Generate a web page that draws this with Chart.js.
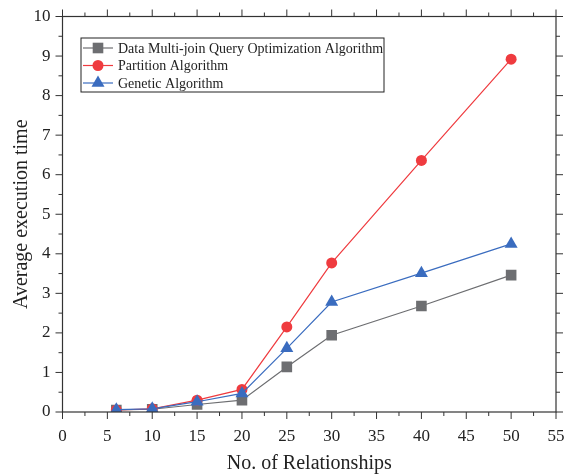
<!DOCTYPE html>
<html>
<head>
<meta charset="utf-8">
<script src="https://cdn.jsdelivr.net/npm/chart.js@4"></script>
<style>
  html, body { margin: 0; padding: 0; background: #fff; }
  #wrap { width: 565px; height: 476px; }
</style>
</head>
<body>
<div id="wrap"><canvas id="chart" width="565" height="476"></canvas></div>
<script>
// Chart data
const relations = [6, 10, 15, 20, 25, 30, 40, 50];
const multiJoin = [0.05, 0.07, 0.19, 0.30, 1.14, 1.94, 2.68, 3.46];
const partition = [0.05, 0.08, 0.30, 0.57, 2.15, 3.77, 6.36, 8.92];
const genetic = [0.06, 0.08, 0.26, 0.47, 1.61, 2.78, 3.51, 4.25];
const seriesNames = [
  'Data Multi-join Query Optimization Algorithm',
  'Partition Algorithm',
  'Genetic Algorithm',
];

const serif = "'Liberation Serif', 'DejaVu Serif', serif";

const toPoints = (ys) => relations.map((x, i) => ({ x: x, y: ys[i] }));

// Frame, outward ticks (major + minor) on all four sides, and boxed legend
const framePlugin = {
  id: 'frame',
  afterDraw(chart) {
    const ctx = chart.ctx;
    const { left, right, top, bottom } = chart.chartArea;
    const xs = chart.scales.x;
    const ys = chart.scales.y;
    ctx.save();
    ctx.strokeStyle = '#333';
    ctx.lineWidth = 1.2;
    ctx.strokeRect(left, top, right - left, bottom - top);

    ctx.lineWidth = 1;
    ctx.beginPath();
    for (let v = 0; v <= 55; v += 2.5) {
      const px = xs.getPixelForValue(v);
      const len = v % 5 === 0 ? 7 : 4;
      ctx.moveTo(px, bottom); ctx.lineTo(px, bottom + len);
      ctx.moveTo(px, top); ctx.lineTo(px, top - len);
    }
    for (let v = 0; v <= 10; v += 0.5) {
      const py = ys.getPixelForValue(v);
      const len = v % 1 === 0 ? 7 : 4;
      ctx.moveTo(left, py); ctx.lineTo(left - len, py);
      ctx.moveTo(right, py); ctx.lineTo(right + len, py);
    }
    ctx.stroke();

    // legend
    const bx = 81, by = 38, bw = 303, bh = 54;
    ctx.fillStyle = '#fff';
    ctx.fillRect(bx, by, bw, bh);
    ctx.strokeStyle = '#222';
    ctx.lineWidth = 1;
    ctx.strokeRect(bx, by, bw, bh);
    const legendOrder = [0, 1, 2];
    legendOrder.forEach((idx, row) => {
      const ds = chart.data.datasets[idx];
      const cy = 48 + row * 17.5;
      ctx.strokeStyle = ds.borderColor;
      ctx.lineWidth = 1.2;
      ctx.beginPath();
      ctx.moveTo(83, cy); ctx.lineTo(113, cy);
      ctx.stroke();
      ctx.fillStyle = ds.backgroundColor;
      Chart.helpers.drawPoint(ctx, {
        pointStyle: ds.pointStyle,
        radius: ds.pointRadius,
        borderWidth: 0,
      }, 98, cy);
      ctx.fillStyle = '#222';
      ctx.font = '14px ' + serif;
      ctx.textAlign = 'left';
      ctx.textBaseline = 'middle';
      ctx.fillText(ds.label, 118, cy + 1);
    });
    ctx.restore();
  },
};

const ctx = document.getElementById('chart').getContext('2d');

const myChart = new Chart(ctx, {
  type: 'line',
  data: {
    datasets: [
      {
        label: seriesNames[0],
        data: toPoints(multiJoin),
        borderColor: '#6d6e71',
        backgroundColor: '#6d6e71',
        pointStyle: 'rect',
        pointRadius: 7.5,
        borderWidth: 1.2,
        pointBorderWidth: 0,
        order: 2,
      },
      {
        label: seriesNames[1],
        data: toPoints(partition),
        borderColor: '#ef3b3f',
        backgroundColor: '#ef3b3f',
        pointStyle: 'circle',
        pointRadius: 5.5,
        borderWidth: 1.2,
        pointBorderWidth: 0,
        order: 1,
      },
      {
        label: seriesNames[2],
        data: toPoints(genetic),
        borderColor: '#3a6cbf',
        backgroundColor: '#3a6cbf',
        pointStyle: 'triangle',
        pointRadius: 7.5,
        borderWidth: 1.2,
        pointBorderWidth: 0,
        order: 0,
      },
    ],
  },
  options: {
    responsive: false,
    animation: false,
    layout: { padding: { top: 16.5, right: 0, left: 0, bottom: 0 } },
    plugins: {
      legend: { display: false },
      tooltip: { enabled: false },
    },
    scales: {
      x: {
        type: 'linear',
        min: 0,
        max: 55,
        grid: { display: false },
        border: { display: false },
        ticks: {
          stepSize: 5,
          padding: 6,
          color: '#222',
          font: { family: serif, size: 17 },
        },
        title: {
          display: true,
          text: 'No. of Relationships',
          color: '#222',
          padding: { top: 3, bottom: 0 },
          font: { family: serif, size: 20 },
        },
        afterFit: (scale) => {
          scale.height = 64;
          scale.paddingRight = 9;
          scale.paddingLeft = 0;
        },
      },
      y: {
        type: 'linear',
        min: 0,
        max: 10,
        grid: { display: false },
        border: { display: false },
        ticks: {
          stepSize: 1,
          padding: 4,
          color: '#222',
          font: { family: serif, size: 17 },
        },
        title: {
          display: true,
          text: 'Average execution time',
          color: '#222',
          padding: { top: 10, bottom: 0 },
          font: { family: serif, size: 20 },
        },
        afterFit: (scale) => { scale.width = 62.5; },
      },
    },
  },
  plugins: [framePlugin],
});
</script>
</body>
</html>
